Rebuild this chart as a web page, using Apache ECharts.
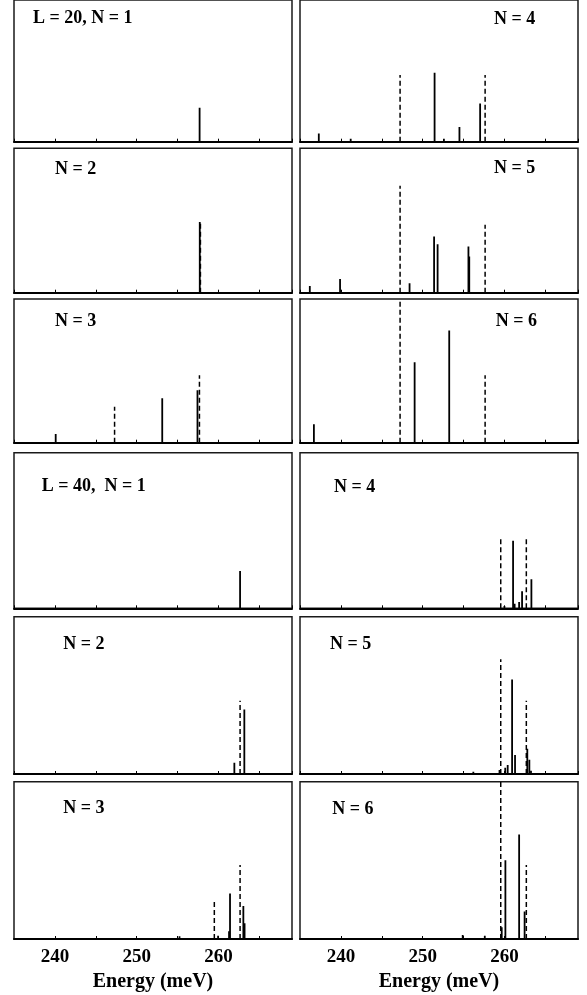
<!DOCTYPE html>
<html>
<head>
<meta charset="utf-8">
<script src="https://cdn.jsdelivr.net/npm/echarts@6/dist/echarts.min.js"></script>
<style>
html,body{margin:0;padding:0;background:#fff;}
#chart{width:587px;height:995px;}
</style>
</head>
<body>
<div id="chart"></div>
<script>
// ---- data: [energy (meV), relative intensity] ----
const xTickLabels = [240, 250, 260];
const panelLabels = ['L = 20, N = 1', 'N = 4', 'N = 2', 'N = 5', 'N = 3', 'N = 6',
                     'L = 40,  N = 1', 'N = 4', 'N = 2', 'N = 5', 'N = 3', 'N = 6'];

const L20_N1_peaks  = [[257.7, 0.24]];
const L20_N1_dashed = [];
const L20_N2_peaks  = [[257.72, 0.49]];
const L20_N2_dashed = [[257.8, 0.49]];
const L20_N3_peaks  = [[240.1, 0.06], [253.13, 0.31], [257.44, 0.365]];
const L20_N3_dashed = [[247.3, 0.25], [257.68, 0.47]];
const L20_N4_peaks  = [[237.3, 0.058], [241.2, 0.02], [251.46, 0.486], [252.6, 0.02], [254.5, 0.104], [257.03, 0.27]];
const L20_N4_dashed = [[247.24, 0.47], [257.64, 0.47]];
const L20_N5_peaks  = [[236.2, 0.046], [239.9, 0.095], [248.4, 0.065], [251.4, 0.39], [251.83, 0.335], [255.6, 0.32], [255.7, 0.25]];
const L20_N5_dashed = [[247.24, 0.74], [257.64, 0.47]];
const L20_N6_peaks  = [[236.7, 0.128], [249.02, 0.56], [253.25, 0.78]];
const L20_N6_dashed = [[247.24, 1.0], [257.64, 0.47]];

const L40_N1_peaks  = [[262.65, 0.24]];
const L40_N1_dashed = [];
const L40_N2_peaks  = [[261.95, 0.072], [263.17, 0.41]];
const L40_N2_dashed = [[262.65, 0.465]];
const L40_N3_peaks  = [[255.24, 0.017], [259.96, 0.02], [261.3, 0.05], [261.42, 0.29], [263.05, 0.21], [263.2, 0.10]];
const L40_N3_dashed = [[259.5, 0.245], [262.65, 0.47]];
const L40_N4_peaks  = [[260.0, 0.015], [261.06, 0.434], [261.25, 0.03], [261.8, 0.04], [262.16, 0.11], [263.3, 0.186]];
const L40_N4_dashed = [[259.55, 0.46], [262.68, 0.46]];
const L40_N5_peaks  = [[256.2, 0.015], [259.4, 0.025], [260.1, 0.04], [260.4, 0.057], [260.94, 0.60], [261.3, 0.12], [262.8, 0.16], [263.05, 0.09], [263.25, 0.02]];
const L40_N5_dashed = [[259.55, 0.73], [262.68, 0.465]];
const L40_N6_peaks  = [[254.9, 0.025], [257.6, 0.02], [259.67, 0.075], [260.12, 0.50], [261.8, 0.665], [262.47, 0.175]];
const L40_N6_dashed = [[259.55, 1.0], [262.68, 0.47]];

// panel order: row by row, left then right
const panelPeaks = [L20_N1_peaks, L20_N4_peaks, L20_N2_peaks, L20_N5_peaks, L20_N3_peaks, L20_N6_peaks,
                    L40_N1_peaks, L40_N4_peaks, L40_N2_peaks, L40_N5_peaks, L40_N3_peaks, L40_N6_peaks];
const panelDashed = [L20_N1_dashed, L20_N4_dashed, L20_N2_dashed, L20_N5_dashed, L20_N3_dashed, L20_N6_dashed,
                     L40_N1_dashed, L40_N4_dashed, L40_N2_dashed, L40_N5_dashed, L40_N3_dashed, L40_N6_dashed];

// ---- layout ----
const colLeft = [14, 300];
const colWidth = 278;
const rowTop = [-2, 148.3, 299, 452.7, 616.7, 781.7];
const rowHeight = [143.7, 144.4, 143.7, 155.6, 157.3, 157.3];
const labelPos = [[33, 9], [494, 10.5], [55, 160], [494, 159], [55, 312.5], [495.7, 312.5],
                  [41.7, 477.5], [334, 478], [63.3, 635.5], [330, 635.5], [63.3, 799], [332.3, 800]];
const FONT = '"Liberation Serif", "Times New Roman", serif';

const grids = [], xAxes = [], yAxes = [], series = [], titles = [];
for (let i = 0; i < 12; i++) {
  const r = Math.floor(i / 2), c = i % 2;
  const isBottom = r === 5;
  grids.push({
    left: colLeft[c], top: rowTop[r], width: colWidth, height: rowHeight[r],
    show: true, borderColor: '#1a1a1a', borderWidth: 1.5, backgroundColor: '#fff'
  });
  xAxes.push({
    type: 'value', gridIndex: i, min: 235, max: 269, interval: 5,
    axisLine: { show: true, onZero: false, lineStyle: { color: '#000', width: 2 } },
    axisTick: { show: true, inside: true, length: 3, lineStyle: { color: '#000', width: 1 } },
    splitLine: { show: false },
    axisLabel: {
      show: isBottom, margin: 9, color: '#000', fontFamily: FONT, fontWeight: 'bold', fontSize: 19,
      showMinLabel: false, showMaxLabel: false,
      formatter: v => xTickLabels.indexOf(v) >= 0 ? String(v) : ''
    },
    name: isBottom ? 'Energy (meV)' : '',
    nameLocation: 'middle', nameGap: 33,
    nameTextStyle: { color: '#000', fontFamily: FONT, fontWeight: 'bold', fontSize: 20 }
  });
  yAxes.push({
    type: 'value', gridIndex: i, min: 0, max: 1, show: false, splitLine: { show: false }
  });
  const mk = (data, dashed) => ({
    type: 'custom', xAxisIndex: i, yAxisIndex: i, data: data, clip: true, silent: true,
    renderItem: (params, api) => {
      const x = api.value(0), h = api.value(1);
      const p0 = api.coord([x, 0]), p1 = api.coord([x, h]);
      return {
        type: 'line',
        shape: { x1: p0[0], y1: p0[1], x2: p1[0], y2: p1[1] },
        style: { stroke: '#000', lineWidth: dashed ? 1.5 : 1.8, lineDash: dashed ? [5, 3] : null, fill: null }
      };
    }
  });
  series.push(mk(panelPeaks[i], false));
  if (panelDashed[i].length) series.push(mk(panelDashed[i], true));
  titles.push({
    text: panelLabels[i], left: labelPos[i][0], top: labelPos[i][1], padding: 0,
    textStyle: { color: '#000', fontFamily: FONT, fontWeight: 'bold', fontSize: 18 }
  });
}

const chart = echarts.init(document.getElementById('chart'), null, { renderer: 'canvas' });
chart.setOption({
  animation: false,
  backgroundColor: '#fff',
  title: titles,
  grid: grids,
  xAxis: xAxes,
  yAxis: yAxes,
  series: series
});
</script>
</body>
</html>
